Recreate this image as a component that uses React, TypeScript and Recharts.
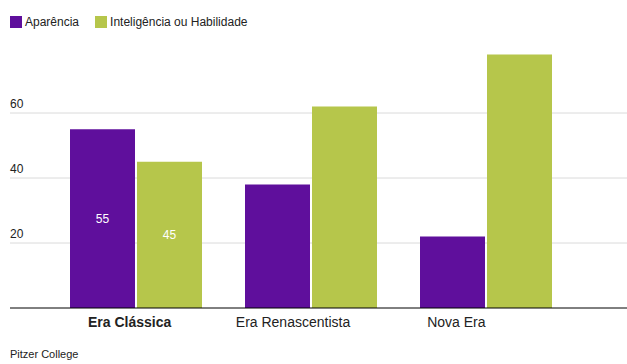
import { BarChart, Bar, XAxis, YAxis, CartesianGrid, LabelList } from 'recharts'

// eras on the x axis, two series (percentages)
const eras = ['Era Clássica', 'Era Renascentista', 'Nova Era']
const aparencia = [55, 38, 22]
const inteligencia = [45, 62, 78]
const yTicks = [20, 40, 60]
const seriesNames = ['Aparência', 'Inteligência ou Habilidade']
const labeledEra = 'Era Clássica'
const source = 'Pitzer College'

const PURPLE = '#5f0f9c'
const GREEN = '#b6c64b'
const FONT = '"Liberation Sans", Arial, Helvetica, sans-serif'
const TEXT = '#222'

const data = eras.map((era, i) => ({ era, aparencia: aparencia[i], inteligencia: inteligencia[i] }))

function EraTick({ x, y, payload }: any) {
  const bold = payload.value === labeledEra
  return (
    <text x={x} y={y} dy={19} textAnchor="middle" fontSize={14} fontFamily={FONT} fill={TEXT} fontWeight={bold ? 'bold' : 'normal'}>
      {payload.value}
    </text>
  )
}

function ValueTick({ y, payload }: any) {
  return (
    <text x={10} y={y - 5} textAnchor="start" fontSize={12} fontFamily={FONT} fill={TEXT}>
      {payload.value}
    </text>
  )
}

function barLabel(p: any) {
  if (data[p.index]?.era !== labeledEra) return null
  return (
    <text
      x={p.x + p.width / 2}
      y={p.y + p.height / 2}
      dy={4}
      textAnchor="middle"
      fontSize={12}
      fontFamily={FONT}
      fill="#fff"
    >
      {p.value}
    </text>
  )
}

export default function App() {
  const colors = [PURPLE, GREEN]
  return (
    <div style={{ position: 'absolute', left: 0, top: 0, width: 627, height: 364, fontFamily: FONT, background: '#fff' }}>
      <div style={{ position: 'absolute', left: 10, top: 15, display: 'flex', alignItems: 'center', fontSize: 12, color: TEXT, zIndex: 1 }}>
        {seriesNames.map((name, i) => (
          <div key={name} style={{ display: 'flex', alignItems: 'center', marginRight: 16 }}>
            <span style={{ display: 'inline-block', width: 12, height: 12, background: colors[i], marginRight: 3 }} />
            <span>{name}</span>
          </div>
        ))}
      </div>
      <BarChart width={627} height={364} data={data} margin={{ top: 48, right: 0, bottom: 26, left: 9 }} barSize={65} barGap={2}>
        <CartesianGrid xAxisId="bars" vertical={false} stroke="#dadada" horizontalValues={yTicks} />
        <XAxis xAxisId="bars" dataKey="era" hide height={0} padding={{ left: 38, right: 54 }} />
        <XAxis
          xAxisId="lbl"
          dataKey="era"
          padding={{ left: 38, right: 89 }}
          tickLine={false}
          tickSize={0}
          tickMargin={0}
          height={30}
          axisLine={{ stroke: '#000', strokeWidth: 1 }}
          tick={<EraTick />}
          interval={0}
        />
        <YAxis domain={[0, 80]} ticks={yTicks} width={1} axisLine={false} tickLine={false} tickSize={0} tickMargin={0} tick={<ValueTick />} />
        <Bar xAxisId="bars" dataKey="aparencia" name={seriesNames[0]} fill={PURPLE} isAnimationActive={false}>
          <LabelList dataKey="aparencia" content={barLabel} />
        </Bar>
        <Bar xAxisId="bars" dataKey="inteligencia" name={seriesNames[1]} fill={GREEN} isAnimationActive={false}>
          <LabelList dataKey="inteligencia" content={barLabel} />
        </Bar>
      </BarChart>
      <div style={{ position: 'absolute', left: 10, top: 348, fontSize: 11, lineHeight: '13px', color: TEXT, zIndex: 1 }}>{source}</div>
    </div>
  )
}
